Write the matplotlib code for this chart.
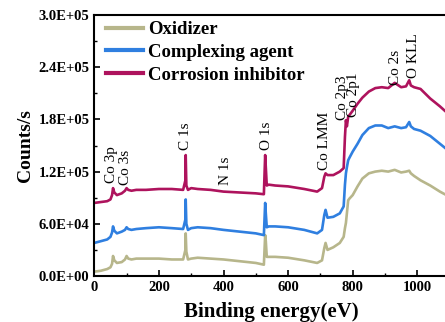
import matplotlib
matplotlib.use("Agg")
import matplotlib.pyplot as plt
from matplotlib.ticker import FuncFormatter, MultipleLocator

# binding energy (eV) shared by the three survey spectra
energy = [0, 20, 40, 50, 55, 58, 62, 70, 85, 95, 100, 105, 115, 130, 160, 200,
          240, 275, 282, 283, 285, 290, 300, 320, 360, 400, 450, 500, 525, 529,
          531, 534, 540, 560, 600, 650, 690, 705, 712, 716, 722, 740, 760, 772,
          776, 779, 782, 786, 790, 800, 815, 830, 850, 870, 890, 910, 930, 950,
          965, 975, 980, 990, 1010, 1040, 1070, 1100, 1130]

# counts/s in thousands
oxidizer = [5, 6, 8, 10, 14, 23, 18, 15, 16, 19, 23, 20, 19, 20, 20, 20,
            19, 19, 30, 49, 28, 19, 20, 21, 20, 19, 17, 15, 13, 47,
            40, 22, 22, 22, 21, 18, 15, 18, 32, 38, 30, 33, 38, 45,
            55, 61, 72, 87, 89, 93, 103, 112, 118, 120, 121, 120, 122, 119,
            120, 121, 118, 115, 110, 104, 97, 91, 85]
complexing = [38, 40, 42, 45, 50, 57, 52, 49, 51, 53, 56, 54, 53, 54, 55, 56,
              55, 54, 65, 88, 60, 53, 55, 56, 55, 53, 51, 49, 47, 84,
              72, 56, 57, 57, 56, 53, 49, 53, 70, 76, 67, 68, 72, 80,
              105, 118, 125, 133, 136, 143, 152, 162, 170, 173, 173, 170, 172, 170,
              171, 177, 172, 169, 167, 161, 152, 143, 135]
inhibitor = [84, 85, 86, 88, 93, 101, 96, 93, 95, 98, 101, 99, 98, 99, 99, 100,
             100, 99, 110, 139, 104, 99, 101, 100, 99, 97, 96, 95, 94, 139,
             125, 104, 105, 104, 103, 100, 97, 101, 114, 118, 116, 116, 120, 124,
             160, 179, 172, 183, 185, 190, 198, 205, 212, 216, 217, 216, 222, 217,
             218, 225, 219, 217, 215, 204, 195, 185, 175]

series_names = ["Oxidizer", "Complexing agent", "Corrosion inhibitor"]
colors = ["#b7b68b", "#2f7fe0", "#ae135d"]

peak_labels = ["Co 3p", "Co 3s", "C 1s", "N 1s", "O 1s", "Co LMM",
               "Co 2p3", "Co 2p1", "Co 2s", "O KLL"]
peak_x = [52, 98, 281, 405, 532, 714, 767, 801, 931, 987]
peak_y = [107, 105, 145, 105, 145, 122, 179, 183, 220, 228]

plt.rcParams["font.family"] = ["Liberation Serif", "DejaVu Serif"]

fig = plt.figure(figsize=(4.45, 3.22), dpi=100)
ax = fig.add_axes([94.3 / 445, 1 - 276 / 322, (0.323 * 1200) / 445, (276 - 15) / 322])

for vals, name, c in zip([oxidizer, complexing, inhibitor], series_names, colors):
    ax.plot(energy, [v * 1000 for v in vals], color=c, lw=1.9, label=name)

for lab, px, py in zip(peak_labels, peak_x, peak_y):
    ax.text(px, py * 1000, lab, rotation=90, ha="center", va="bottom", fontsize=11)

ax.set_xlim(0, 1200)
ax.set_ylim(0, 3.0e5)
ax.xaxis.set_major_locator(MultipleLocator(200))
ax.xaxis.set_minor_locator(MultipleLocator(100))
ax.yaxis.set_major_locator(MultipleLocator(6e4))
ax.yaxis.set_minor_locator(MultipleLocator(3e4))
ax.yaxis.set_major_formatter(FuncFormatter(lambda v, p: f"{v:.1E}"))
ax.tick_params(which="both", direction="in", top=False, right=False)
ax.tick_params(which="major", length=4, width=1.2, labelsize=10.5)
ax.tick_params(which="minor", length=2.5, width=1.0)
for lab in ax.get_xticklabels() + ax.get_yticklabels():
    lab.set_fontweight("bold")
for s in ax.spines.values():
    s.set_linewidth(1.5)

ax.set_xlabel("Binding energy(eV)", fontsize=15, fontweight="bold")
ax.xaxis.set_label_coords((271 - 94.3) / 387.6, -0.1)
ax.set_ylabel("Counts/s", fontsize=14, fontweight="bold")
ax.yaxis.set_label_coords((34 - 94.3) / 387.6, 0.5)

leg = ax.legend(loc="upper left", bbox_to_anchor=(0.0, 1.02), frameon=False,
                prop={"weight": "bold", "size": 13.5}, handlelength=2.0,
                handletextpad=0.25, labelspacing=0.3, borderaxespad=0.2)
for h in leg.get_lines():
    h.set_linewidth(3)

fig.savefig("out.png", dpi=100)
